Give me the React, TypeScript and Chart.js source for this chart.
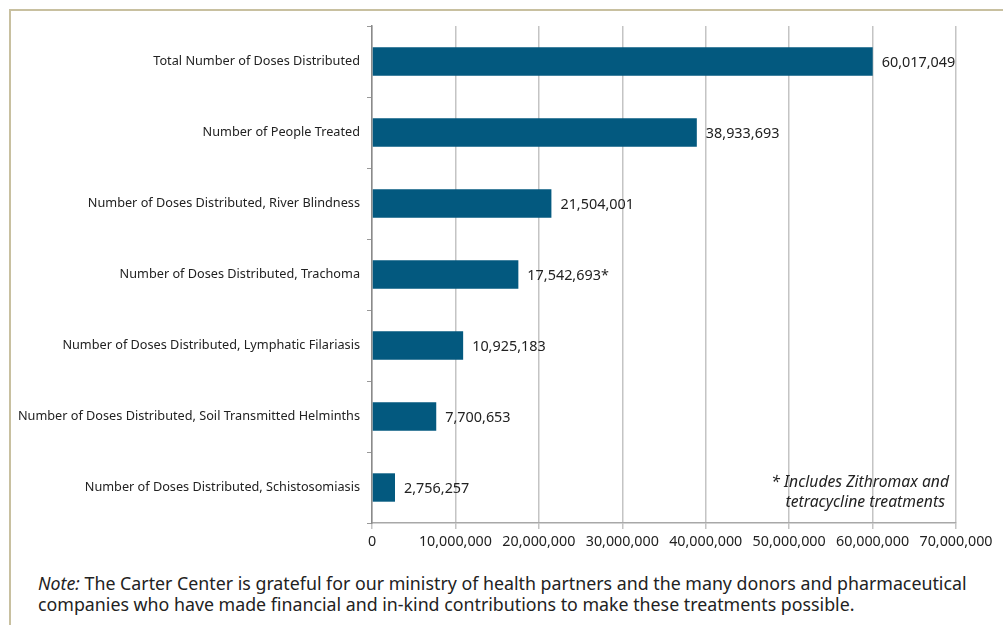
import React, { useEffect, useRef } from "react";
import { Chart, registerables } from "chart.js";

Chart.register(...registerables);

const categories = [
  "Total Number of Doses Distributed",
  "Number of People Treated",
  "Number of Doses Distributed, River Blindness",
  "Number of Doses Distributed, Trachoma",
  "Number of Doses Distributed, Lymphatic Filariasis",
  "Number of Doses Distributed, Soil Transmitted Helminths",
  "Number of Doses Distributed, Schistosomiasis",
];
const values = [60017049, 38933693, 21504001, 17542693, 10925183, 7700653, 2756257];
const labelSuffixes = ["", "", "", "*", "", "", ""];
const xTicks = [0, 10000000, 20000000, 30000000, 40000000, 50000000, 60000000, 70000000];

const FONT = "'Noto Sans', Lato, sans-serif";
const fmt = (v: number) => v.toLocaleString("en-US");

const valueLabelPlugin = {
  id: "valueLabels",
  afterDatasetsDraw(chart: any) {
    const ctx = chart.ctx;
    const meta = chart.getDatasetMeta(0);
    ctx.save();
    ctx.font = `14.4px ${FONT}`;
    ctx.fillStyle = "#222";
    ctx.textAlign = "left";
    ctx.textBaseline = "middle";
    meta.data.forEach((el: any, i: number) => {
      ctx.fillText(fmt(values[i]) + labelSuffixes[i], el.x + 9, el.y + 1);
    });
    ctx.restore();
  },
};

export default function App() {
  const ref = useRef<HTMLCanvasElement>(null);
  useEffect(() => {
    if (!ref.current) return;
    const chart = new Chart(ref.current, {
      type: "bar",
      data: {
        labels: categories,
        datasets: [
          {
            data: values,
            backgroundColor: "#03597f",
            borderWidth: 0,
            barPercentage: 0.4,
            categoryPercentage: 1,
          },
        ],
      },
      options: {
        indexAxis: "y",
        animation: false,
        responsive: false,
        maintainAspectRatio: false,
        layout: { padding: { top: 26, right: 47, left: 0, bottom: 0 } },
        plugins: { legend: { display: false }, tooltip: { enabled: false } },
        scales: {
          x: {
            min: 0,
            max: 70000000,
            afterBuildTicks: (s: any) => {
              s.ticks = xTicks.map((v) => ({ value: v }));
            },
            afterFit: (s: any) => {
              s.height = 37;
            },
            grid: {
              color: "#c4c4c4",
              lineWidth: 1.5,
              tickLength: 6,
              drawTicks: true,
            },
            border: { color: "#a8a8a8", width: 1.5 },
            ticks: {
              color: "#222",
              font: { family: FONT, size: 14.3 },
              padding: 4,
              maxRotation: 0,
              autoSkip: false,
              callback: (v: any) => fmt(Number(v)),
            },
          },
          y: {
            afterFit: (s: any) => {
              s.width = 372;
            },
            grid: {
              offset: true,
              drawOnChartArea: false,
              tickLength: 5,
              color: "#999",
            },
            border: { color: "#8a8a8a", width: 1.5 },
            ticks: {
              color: "#222",
              font: { family: FONT, size: 12.7 },
              padding: 7,
              autoSkip: false,
            },
          },
        },
      },
      plugins: [valueLabelPlugin],
    });
    return () => chart.destroy();
  }, []);

  return (
    <div
      style={{
        position: "fixed",
        left: 0,
        top: 0,
        width: 1003,
        height: 625,
        background: "#fff",
        overflow: "hidden",
        fontFamily: FONT,
      }}
    >
      <div
        style={{
          position: "absolute",
          left: 9,
          top: 9,
          width: 1100,
          height: 700,
          border: "2px solid #c8c0a0",
          boxSizing: "border-box",
        }}
      />
      <canvas
        ref={ref}
        width={1003}
        height={560}
        style={{ position: "absolute", left: 0, top: 0, width: 1003, height: 560 }}
      />
      <div
        style={{
          position: "absolute",
          right: 54,
          top: 471,
          textAlign: "right",
          fontStyle: "italic",
          fontSize: 15.7,
          lineHeight: "20px",
          color: "#222",
        }}
      >
        * Includes Zithromax and
        <br />
        tetracycline treatments&nbsp;
      </div>
      <div
        style={{
          position: "absolute",
          left: 38,
          top: 573,
          fontSize: 17.8,
          lineHeight: "21px",
          color: "#222",
          whiteSpace: "nowrap",
        }}
      >
        <i>Note:</i> The Carter Center is grateful for our ministry of health partners and the many donors and pharmaceutical
        <br />
        companies who have made financial and in-kind contributions to make these treatments possible.
      </div>
    </div>
  );
}
